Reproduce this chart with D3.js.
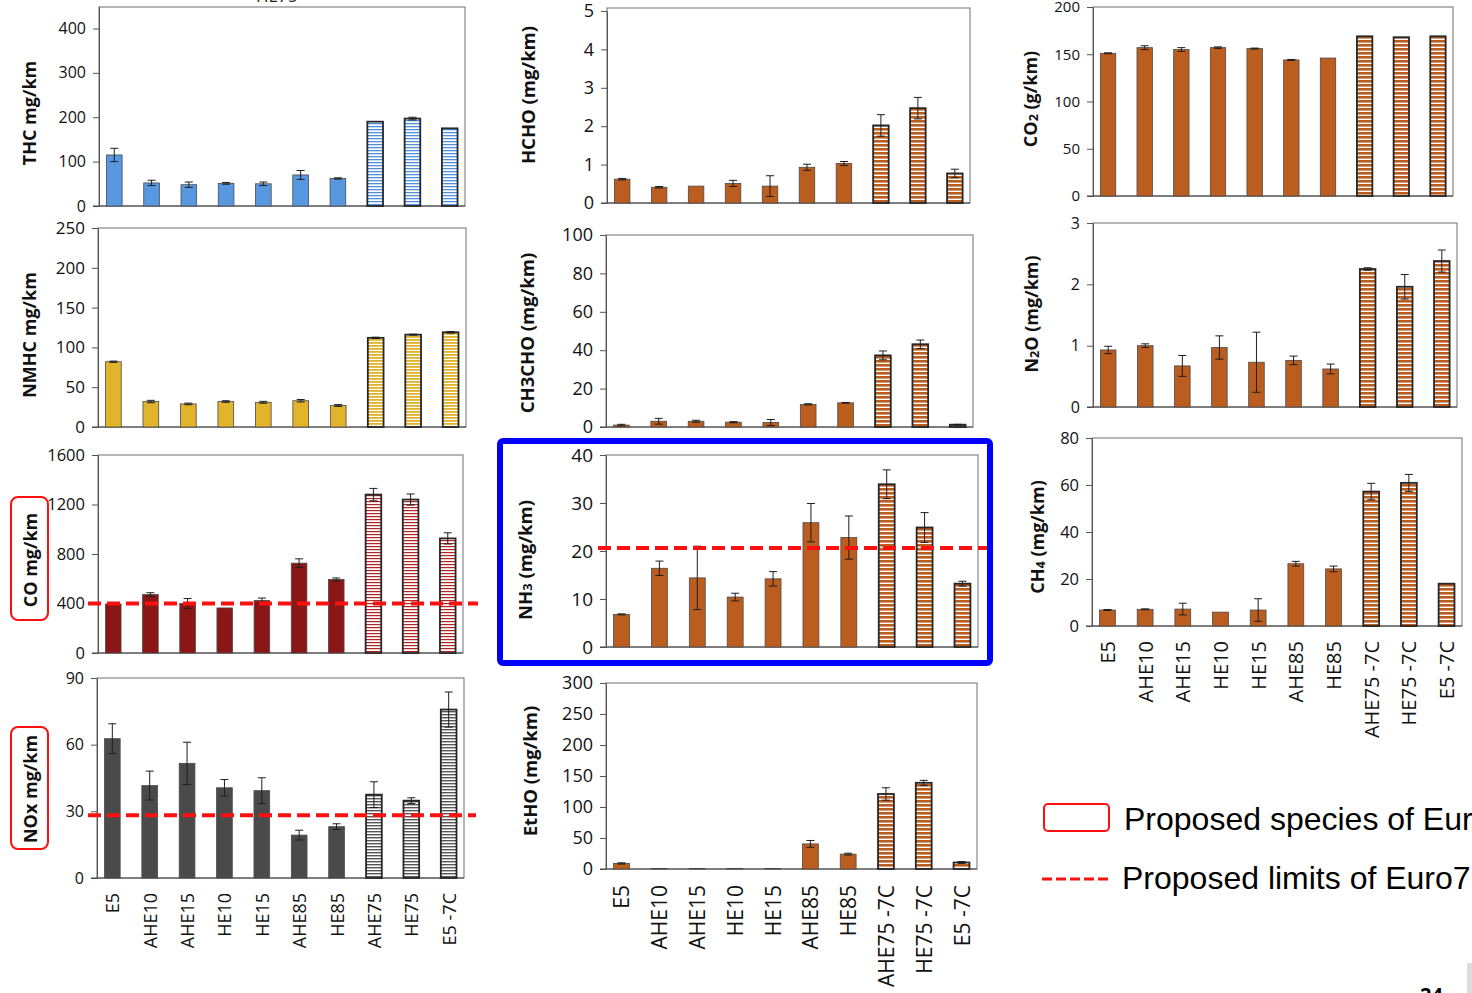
<!DOCTYPE html>
<html>
<head>
<meta charset="utf-8">
<script src="https://cdn.jsdelivr.net/npm/d3@7"></script>
<style>
  html, body { margin: 0; padding: 0; background: #fff; overflow: hidden; }
  svg { display: block; font-family: "Open Sans", sans-serif; }
</style>
</head>
<body>
<svg id="chart" width="1472" height="993"></svg>
<script>
// fuels on the x axis
const fuels = ['E5', 'AHE10', 'AHE15', 'HE10', 'HE15', 'AHE85', 'HE85', 'AHE75', 'HE75', 'E5 -7C'];
const fuelsCold = ['E5', 'AHE10', 'AHE15', 'HE10', 'HE15', 'AHE85', 'HE85', 'AHE75 -7C', 'HE75 -7C', 'E5 -7C'];

// emissions (mean and error) per fuel
const thc = [115, 52, 48, 51, 50, 70, 62, 190, 197, 175];
const thcErr = [15, 6, 6, 2, 4, 10, 1.5, 0, 3, 0];
const nmhc = [82, 32, 29, 32, 31, 33, 27, 112, 116, 119];
const nmhcErr = [0.8, 1.5, 1, 1, 1.2, 1.5, 1.2, 0.8, 0.6, 1];
const co = [396, 472, 400, 364, 424, 726, 594, 1280, 1240, 926];
const coErr = [0, 15, 40, 0, 20, 35, 12, 50, 45, 45];
const nox = [62.7, 41.6, 51.6, 40.6, 39.3, 19.3, 23.1, 37.5, 34.8, 75.8];
const noxErr = [6.7, 6.5, 9.5, 3.7, 5.8, 2.2, 1.3, 5.8, 1.3, 7.9];
const hcho = [0.62, 0.41, 0.44, 0.51, 0.44, 0.93, 1.03, 2.02, 2.47, 0.77];
const hchoErr = [0.02, 0.02, 0, 0.08, 0.27, 0.08, 0.05, 0.28, 0.28, 0.11];
const ch3cho = [1.0, 3.0, 3.0, 2.5, 2.3, 11.8, 12.6, 37.3, 43.1, 1.2];
const ch3choErr = [0.4, 1.5, 0.5, 0.3, 1.6, 0.3, 0.2, 2.3, 2.2, 0.2];
const nh3 = [6.8, 16.4, 14.4, 10.4, 14.2, 25.9, 22.8, 33.9, 24.9, 13.2];
const nh3Err = [0.1, 1.5, 6.6, 0.8, 1.5, 4, 4.5, 3, 3.1, 0.5];
const etho = [9, 1, 1, 1, 1, 40.5, 24, 121, 139, 10.5];
const ethoErr = [1, 0, 0, 0, 0, 5.5, 1.5, 10, 4, 1.5];
const co2 = [151, 157, 155, 157, 156, 144, 146, 169, 168, 169];
const co2Err = [0.5, 2, 2, 0.8, 0.5, 0.5, 0, 0, 0, 0];
const n2o = [0.93, 1.0, 0.67, 0.97, 0.73, 0.76, 0.62, 2.25, 1.96, 2.38];
const n2oErr = [0.06, 0.03, 0.17, 0.19, 0.49, 0.07, 0.08, 0.02, 0.2, 0.18];
const ch4 = [6.8, 7.1, 7.2, 5.9, 6.8, 26.5, 24.3, 57.2, 60.9, 18];
const ch4Err = [0.2, 0.2, 2.5, 0, 4.8, 1, 1.2, 3.5, 3.6, 0];

// axis ticks
const thcTicks = [0, 100, 200, 300, 400];
const nmhcTicks = [0, 50, 100, 150, 200, 250];
const coTicks = [0, 400, 800, 1200, 1600];
const noxTicks = [0, 30, 60, 90];
const hchoTicks = [0, 1, 2, 3, 4, 5];
const ch3choTicks = [0, 20, 40, 60, 80, 100];
const nh3Ticks = [0, 10, 20, 30, 40];
const ethoTicks = [0, 50, 100, 150, 200, 250, 300];
const co2Ticks = [0, 50, 100, 150, 200];
const n2oTicks = [0, 1, 2, 3];
const ch4Ticks = [0, 20, 40, 60, 80];

// proposed Euro7 limits
const coLimit = 400;
const noxLimit = 28.2;
const nh3Limit = 20.6;

const legendItems = ['Proposed species of Euro7', 'Proposed limits of Euro7'];

const svg = d3.select('#chart');
const defs = svg.append('defs');
const RED = '#ff1010';

function hatch(id, color, period, band) {
  let p = defs.append('pattern')
    .attr('id', id)
    .attr('patternUnits', 'userSpaceOnUse')
    .attr('width', 8)
    .attr('height', period);
  p.append('rect').attr('width', 8).attr('height', period).attr('fill', '#fff');
  p.append('rect').attr('width', 8).attr('height', band).attr('fill', color);
}

hatch('h-blue', '#4f8fdc', 3, 1.3);
hatch('h-gold', '#e0b12a', 3, 1.8);
hatch('h-red', '#b02424', 3, 1.2);
hatch('h-grey', '#555', 3, 1.4);
hatch('h-orange', '#bb5d1f', 4, 2.6);

let panels = [
  { vals: thc, errs: thcErr, max: 450, ticks: thcTicks, x0: 99, x1: 465, y0: 206, yTop: 6.3, frameTop: 7,
    color: '#5898e0', hatch: 'h-blue', tickSize: 16, title: [['THC mg/km']], tx: 29, ty: 113, ts: 18 },
  { vals: nmhc, errs: nmhcErr, max: 250, ticks: nmhcTicks, x0: 98, x1: 466, y0: 427, yTop: 228,
    color: '#e2b42c', hatch: 'h-gold', tickSize: 17, title: [['NMHC mg/km']], tx: 29, ty: 335, ts: 18 },
  { vals: co, errs: coErr, max: 1600, ticks: coTicks, x0: 98, x1: 463, y0: 653, yTop: 455,
    color: '#8b1616', hatch: 'h-red', tickSize: 16.5, title: [['CO mg/km']], tx: 30, ty: 560, ts: 18,
    limit: coLimit, lx0: 88, lx1: 478, box: [11, 497, 37, 123] },
  { vals: nox, errs: noxErr, max: 90, ticks: noxTicks, x0: 97, x1: 464, y0: 878, yTop: 678,
    color: '#4a4a4a', hatch: 'h-grey', tickSize: 16, title: [['NOx mg/km']], tx: 30, ty: 789, ts: 18,
    limit: noxLimit, lx0: 88, lx1: 476, box: [11, 727, 37, 122], labels: fuels, labelSize: 18, labelGap: 15 },
  { vals: hcho, errs: hchoErr, max: 5, ticks: hchoTicks, x0: 607, x1: 970, y0: 203, yTop: 11, frameTop: 8,
    color: '#bb5d1f', hatch: 'h-orange', tickSize: 18, title: [['HCHO (mg/km)']], tx: 527, ty: 95, ts: 18.5 },
  { vals: ch3cho, errs: ch3choErr, max: 100, ticks: ch3choTicks, x0: 606, x1: 973, y0: 427, yTop: 235,
    color: '#bb5d1f', hatch: 'h-orange', tickSize: 18, title: [['CH3CHO (mg/km)']], tx: 526, ty: 333, ts: 18.5 },
  { vals: nh3, errs: nh3Err, max: 40, ticks: nh3Ticks, x0: 606, x1: 978, y0: 647, yTop: 455,
    color: '#bb5d1f', hatch: 'h-orange', tickSize: 19, title: [['NH'], ['3', true], [' (mg/km)']], tx: 524, ty: 560, ts: 18.5,
    limit: nh3Limit, lx0: 598, lx1: 988 },
  { vals: etho, errs: ethoErr, max: 300, ticks: ethoTicks, x0: 606, x1: 977, y0: 869, yTop: 683,
    color: '#bb5d1f', hatch: 'h-orange', tickSize: 18, title: [['EtHO (mg/km)']], tx: 529, ty: 771, ts: 18.5,
    labels: fuelsCold, labelSize: 21, labelGap: 16 },
  { vals: co2, errs: co2Err, max: 200, ticks: co2Ticks, x0: 1093, x1: 1453, y0: 196, yTop: 7,
    color: '#bb5d1f', hatch: 'h-orange', tickSize: 15, title: [['CO'], ['2', true], [' (g/km)']], tx: 1030, ty: 99, ts: 18 },
  { vals: n2o, errs: n2oErr, max: 3, ticks: n2oTicks, x0: 1093, x1: 1457, y0: 407, yTop: 223,
    color: '#bb5d1f', hatch: 'h-orange', tickSize: 16, title: [['N'], ['2', true], ['O (mg/km)']], tx: 1031, ty: 314, ts: 18 },
  { vals: ch4, errs: ch4Err, max: 80, ticks: ch4Ticks, x0: 1092, x1: 1462, y0: 626, yTop: 438,
    color: '#bb5d1f', hatch: 'h-orange', tickSize: 16.5, title: [['CH'], ['4', true], [' (mg/km)']], tx: 1037, ty: 537, ts: 18,
    labels: fuelsCold, labelSize: 20, labelGap: 15 }
];

panels.forEach(drawPanel);

function drawPanel(p) {
  let x = d3.scaleBand()
    .domain(d3.range(p.vals.length))
    .range([p.x0, p.x1])
    .paddingInner(0.58)
    .paddingOuter(0.2);

  let y = d3.scaleLinear().domain([0, p.max]).range([p.y0, p.yTop]);

  let g = svg.append('g');
  let top = p.frameTop !== undefined ? p.frameTop : p.yTop;

  g.append('rect')
    .attr('x', p.x0)
    .attr('y', top)
    .attr('width', p.x1 - p.x0)
    .attr('height', p.y0 - top)
    .attr('fill', 'none')
    .attr('stroke', '#6f6f6f')
    .attr('stroke-width', 1);

  let axis = g.append('g')
    .attr('transform', `translate(${p.x0}, 0)`)
    .call(d3.axisLeft(y).tickValues(p.ticks).tickFormat((d) => String(d))
      .tickSize(6).tickSizeOuter(0).tickPadding(7));
  axis.select('.domain').attr('stroke', '#555');
  axis.selectAll('.tick line').attr('stroke', '#555');
  axis.selectAll('.tick text')
    .attr('font-size', p.tickSize)
    .attr('font-family', '"Open Sans", sans-serif')
    .attr('fill', '#111');

  g.append('line')
    .attr('x1', p.x0 - 6).attr('x2', p.x1)
    .attr('y1', p.y0).attr('y2', p.y0)
    .attr('stroke', '#444');

  // bars
  g.selectAll('rect.bar')
    .data(p.vals)
    .enter()
    .append('rect')
    .attr('class', 'bar')
    .attr('x', (d, i) => x(i))
    .attr('y', (d) => y(d))
    .attr('width', x.bandwidth())
    .attr('height', (d) => p.y0 - y(d))
    .attr('fill', (d, i) => (i >= 7 ? `url(#${p.hatch})` : p.color))
    .attr('stroke', (d, i) => (i >= 7 ? '#262626' : '#4a4a4a'))
    .attr('stroke-width', (d, i) => (i >= 7 ? 1.8 : 0.8));

  // error bars
  let eb = g.selectAll('g.err')
    .data(p.vals.map((v, i) => ({ v: v, e: p.errs[i], i: i })).filter((d) => d.e > 0))
    .enter()
    .append('g')
    .attr('class', 'err')
    .attr('stroke', '#1e1e1e')
    .attr('stroke-width', 1);
  let cx = (d) => x(d.i) + x.bandwidth() / 2;
  eb.append('line')
    .attr('x1', cx).attr('x2', cx)
    .attr('y1', (d) => y(d.v - d.e)).attr('y2', (d) => y(d.v + d.e));
  [1, -1].forEach((s) => {
    eb.append('line')
      .attr('x1', (d) => cx(d) - 4).attr('x2', (d) => cx(d) + 4)
      .attr('y1', (d) => y(d.v + s * d.e)).attr('y2', (d) => y(d.v + s * d.e));
  });

  // limit line
  if (p.limit !== undefined) {
    g.append('line')
      .attr('x1', p.lx0).attr('x2', p.lx1)
      .attr('y1', y(p.limit)).attr('y2', y(p.limit))
      .attr('stroke', RED)
      .attr('stroke-width', 4)
      .attr('stroke-dasharray', '13,6');
  }

  // category labels
  if (p.labels) {
    g.selectAll('text.cat')
      .data(p.labels)
      .enter()
      .append('text')
      .attr('class', 'cat')
      .attr('transform', (d, i) => `translate(${x(i) + x.bandwidth() / 2}, ${p.y0 + p.labelGap}) rotate(-90)`)
      .attr('text-anchor', 'end')
      .attr('dominant-baseline', 'central')
      .attr('font-size', p.labelSize)
      .attr('fill', '#111')
      .text((d) => d);
  }

  // y title
  let t = g.append('text')
    .attr('transform', `translate(${p.tx}, ${p.ty}) rotate(-90)`)
    .attr('text-anchor', 'middle')
    .attr('dominant-baseline', 'central')
    .attr('font-size', p.ts)
    .attr('font-weight', 'bold')
    .attr('fill', '#111');
  let shifted = false;
  p.title.forEach((part) => {
    let ts = t.append('tspan').text(part[0]);
    if (part[1]) {
      ts.attr('font-size', p.ts * 0.7).attr('dy', 3);
      shifted = true;
    } else if (shifted) {
      ts.attr('dy', -3);
      shifted = false;
    }
  });

  if (p.box) {
    g.append('rect')
      .attr('x', p.box[0]).attr('y', p.box[1])
      .attr('width', p.box[2]).attr('height', p.box[3])
      .attr('rx', 7)
      .attr('fill', 'none')
      .attr('stroke', RED)
      .attr('stroke-width', 2);
  }
}

// NH3 highlight
svg.append('rect')
  .attr('x', 500).attr('y', 441)
  .attr('width', 490).attr('height', 222)
  .attr('rx', 3)
  .attr('fill', 'none')
  .attr('stroke', '#0000ff')
  .attr('stroke-width', 6);

// leftover title from the slide, clipped at the top
svg.append('text')
  .attr('x', 256).attr('y', 2)
  .attr('font-size', 17)
  .attr('fill', '#222')
  .text('HE75');

// legend
let legend = svg.append('g').attr('font-family', '"Liberation Sans", Arial, sans-serif');
legend.append('rect')
  .attr('x', 1044).attr('y', 804)
  .attr('width', 65).attr('height', 27)
  .attr('rx', 4)
  .attr('fill', 'none')
  .attr('stroke', RED)
  .attr('stroke-width', 2);
legend.append('line')
  .attr('x1', 1042).attr('x2', 1110)
  .attr('y1', 879).attr('y2', 879)
  .attr('stroke', RED)
  .attr('stroke-width', 3)
  .attr('stroke-dasharray', '10,4');
legend.selectAll('text.leg')
  .data(legendItems)
  .enter()
  .append('text')
  .attr('class', 'leg')
  .attr('x', (d, i) => (i === 0 ? 1124 : 1122))
  .attr('y', (d, i) => (i === 0 ? 830 : 889))
  .attr('font-size', 32)
  .attr('fill', '#000')
  .text((d) => d);

// page number and slide edge
svg.append('text')
  .attr('x', 1420).attr('y', 1002)
  .attr('font-size', 20)
  .attr('font-weight', 'bold')
  .text('24');
svg.append('rect')
  .attr('x', 1467).attr('y', 963)
  .attr('width', 5).attr('height', 30)
  .attr('fill', '#dcdcdc');
</script>
</body>
</html>
